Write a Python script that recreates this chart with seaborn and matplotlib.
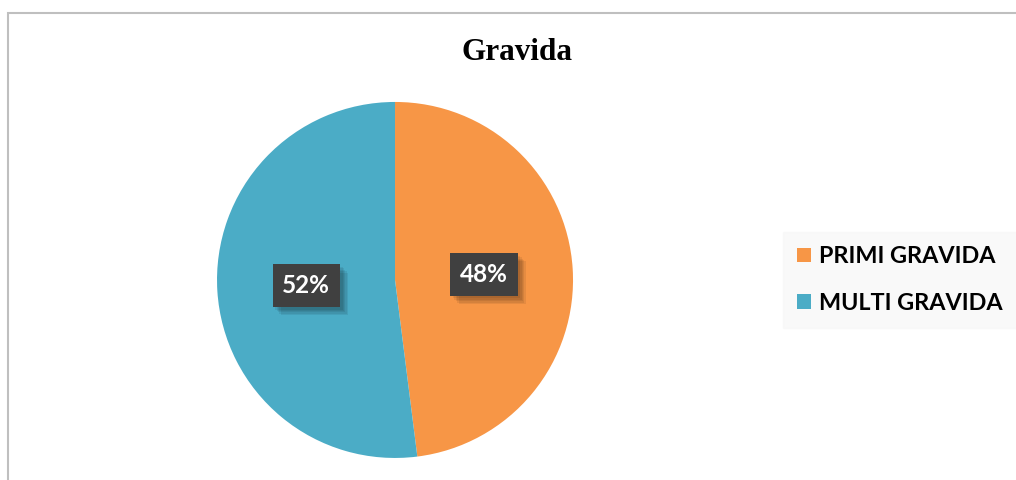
import matplotlib
matplotlib.use("Agg")
import matplotlib.pyplot as plt
import matplotlib.patheffects as pe
from matplotlib.patches import Rectangle
import seaborn as sns

categories = ["PRIMI GRAVIDA", "MULTI GRAVIDA"]
values = [48, 52]
colors = sns.color_palette(["#F79646", "#4BACC6"])
title = "Gravida"

sns.set_style("white")
plt.rcParams['font.family'] = ['Lato', 'DejaVu Sans']

fig = plt.figure(figsize=(10.16, 4.8), dpi=100)
fig.patch.set_facecolor("white")

# outer chart border (top/left visible)
fig.patches.append(Rectangle((8/1016, -0.05), 1.1, 1 - 13/480 + 0.05,
                             transform=fig.transFigure, fill=False,
                             edgecolor="#BFBFBF", linewidth=1.5))

ax = fig.add_axes([0.3888 - 0.1752, 0.4167 - 0.3708, 0.3504, 0.7417])
wedges, texts, autotexts = ax.pie(
    values, colors=colors, startangle=90, counterclock=False,
    autopct=lambda p: f"{p:.0f}%", pctdistance=0.5,
    wedgeprops=dict(linewidth=0))
shadow_fx = [pe.SimplePatchShadow(offset=(o, -o), shadow_rgbFace="#000000", alpha=0.07)
             for o in (6, 5, 4, 3, 2)] + [pe.Normal()]
for t in autotexts:
    t.set_color("white")
    t.set_fontsize(17.5)
    t.set_fontweight("bold")
    t.set_bbox(dict(boxstyle="square,pad=0.4", facecolor="#404040",
                    edgecolor="none", linewidth=0))
    t.get_bbox_patch().set_path_effects(shadow_fx)
ax.set_xlim(-1, 1)
ax.set_ylim(-1, 1)
ax.set_aspect("equal")
ax.axis("off")

fig.text(517/1016, 1 - 52/480, title, ha="center", va="center", color="black",
         fontsize=22.5, fontweight="bold", family="Liberation Serif")

leg = fig.legend(wedges, categories, loc="center left",
                 bbox_to_anchor=(790/1016, 1 - 280/480),
                 frameon=True, handlelength=0.6, handleheight=0.6,
                 handletextpad=0.35, labelspacing=1.1, borderpad=0.3,
                 borderaxespad=0,
                 prop=dict(weight="bold", size=16.8, family="Lato"),
                 labelcolor="black")
leg.get_frame().set_facecolor("#F8F8F8")
leg.get_frame().set_edgecolor("#F8F8F8")
leg.get_frame().set_boxstyle("square")

fig.savefig("out.png", dpi=100, facecolor="white")
